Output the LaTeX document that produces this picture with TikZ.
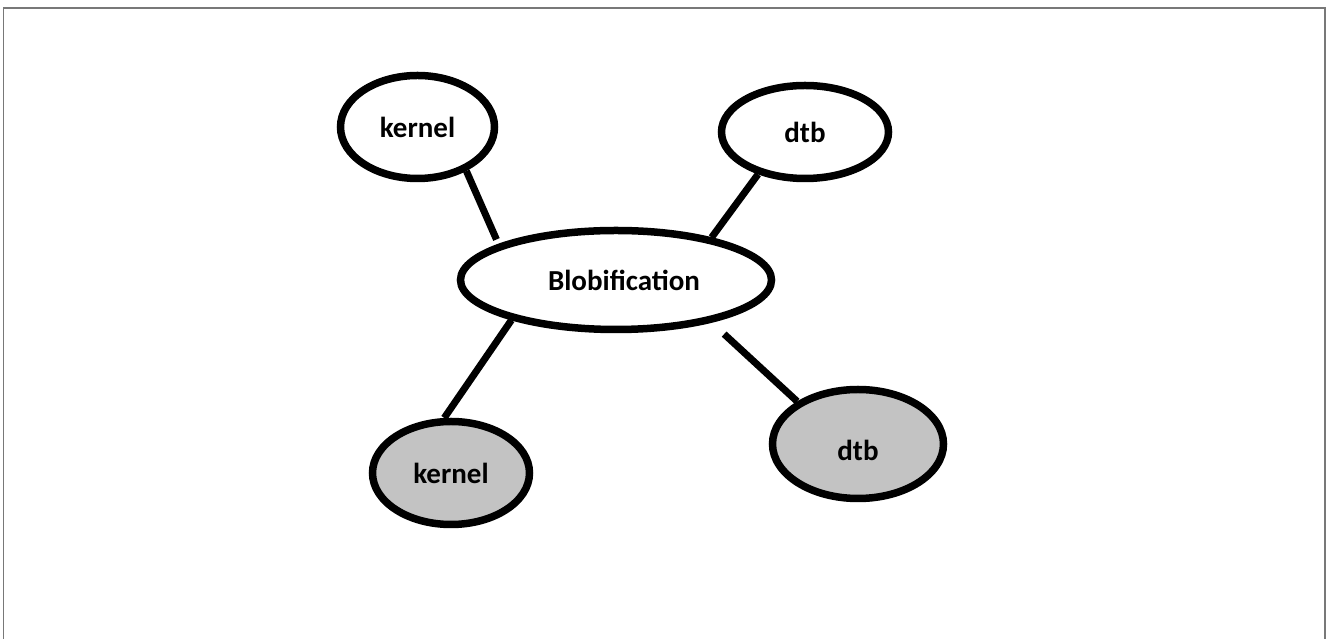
\documentclass[tikz,border=0pt]{standalone}
\usepackage{fontspec}
\setmainfont{Carlito}
\usetikzlibrary{shapes.geometric}
\definecolor{blobgray}{RGB}{195,195,195}
\definecolor{framegray}{RGB}{120,120,120}
\begin{document}
\begin{tikzpicture}[x=1pt,y=1pt,
  blob/.style={ellipse, draw=black, line width=7.5pt, inner sep=0pt, fill=white,
    font=\fontsize{29}{31}\selectfont\bfseries},
  shaded/.style={blob, fill=blobgray},
  link/.style={draw=black, line width=7pt}]
\useasboundingbox[fill=white] (0,0) rectangle (1328,639);
\draw[framegray, line width=1.3pt] (3.5,0) -- (3.5,631) -- (1325,631) -- (1325,0);

\node[blob, minimum width=154pt, minimum height=103pt] (k1) at (417.5,512) {kernel};
\node[blob, minimum width=167pt, minimum height=93pt] (d1) at (805,507) {dtb};
\node[blob, minimum width=311pt, minimum height=99pt] (b) at (616,359) {\hspace*{16pt}Blobification};
\node[shaded, minimum width=157pt, minimum height=103pt] (k2) at (451,166) {kernel};
\node[shaded, minimum width=171pt, minimum height=109pt] (d2) at (858,195) {\raisebox{-6pt}[\height][\depth]{dtb}};

\draw[link, shorten >=5pt] (k1.-42) -- (b.163);
\draw[link] (d1.222) -- (b.24);
\draw[link] (b.201.5) -- (k2.97);
\draw[link, shorten <=17pt] (b.336.3) -- (d2.145);
\end{tikzpicture}
\end{document}
